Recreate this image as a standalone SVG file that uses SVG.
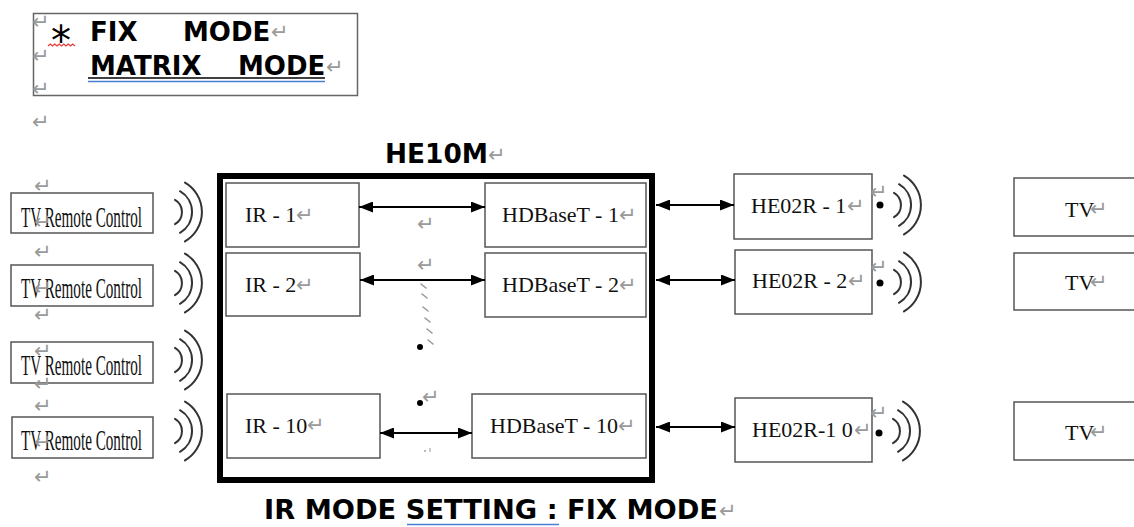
<svg xmlns="http://www.w3.org/2000/svg" xmlns:xlink="http://www.w3.org/1999/xlink" width="1134" height="527" viewBox="0 0 1134 527">
<style>
.bg{fill:#fff}
.box{fill:#fff;stroke:#555;stroke-width:1.5}
.big{font-family:"DejaVu Sans","Verdana",sans-serif;font-weight:bold;font-size:26px;fill:#000}
.ser{font-family:"Liberation Serif","Times New Roman",serif;font-size:22px;fill:#111}
.rc{font-family:"Liberation Serif","Times New Roman",serif;font-size:30px;fill:#111}
.rm{font-family:"DejaVu Sans",sans-serif;font-size:21px;fill:#9a9a9a}
.wave{fill:none;stroke:#333;stroke-width:2;stroke-linecap:round}
.conn{stroke:#000;stroke-width:2;fill:none}
.tick{stroke:#9a9a9a;stroke-width:1.6;stroke-linecap:round}
</style>
<defs>
<marker id="ah" markerWidth="14" markerHeight="11" refX="14" refY="5.5" orient="auto-start-reverse" markerUnits="userSpaceOnUse">
<path d="M0,0 L14,5.5 L0,11 Z" fill="#000"/>
</marker>
<path id="wv" class="wave" d="M7,-12.1 A14,14 0 0 1 7,12.1 M12,-20.8 A24,24 0 0 1 12,20.8 M17,-29.4 A34,34 0 0 1 17,29.4"/>
</defs>
<rect class="bg" x="0" y="0" width="1134" height="527"/>

<g id="mode-legend">
<rect x="33.5" y="13.5" width="324" height="82" fill="none" stroke="#666" stroke-width="1.5"/>
<text class="rm" x="32" y="29">↵</text>
<text class="rm" x="32" y="63">↵</text>
<text class="rm" x="32" y="96">↵</text>
<text x="51" y="55" font-family="DejaVu Sans,sans-serif" font-size="40" fill="#000">*</text>
<path d="M48,46 l2.25,-2 l2.25,2 l2.25,-2 l2.25,2 l2.25,-2 l2.25,2 l2.25,-2 l2.25,2 l2.25,-2 l2.25,2 l2.25,-2 l2.25,2" fill="none" stroke="#e53935" stroke-width="1.2"/>
<text class="big" x="90" y="41">FIX<tspan x="183">MODE</tspan></text>
<text class="rm" x="271" y="39">↵</text>
<text class="big" x="90" y="75">MATRIX<tspan x="238">MODE</tspan></text>
<line x1="88" y1="78" x2="325" y2="78" stroke="#000" stroke-width="1.6"/>
<line x1="88" y1="81.5" x2="325" y2="81.5" stroke="#4a7fd6" stroke-width="1.3"/>
<text class="rm" x="326" y="74">↵</text>
<text class="rm" x="32" y="129">↵</text>
</g>

<g id="he10m">
<text class="big" x="385" y="163" textLength="103" lengthAdjust="spacingAndGlyphs">HE10M</text>
<text class="rm" x="488" y="162">↵</text>
<rect x="220" y="176" width="432" height="304" fill="none" stroke="#000" stroke-width="6"/>
</g>

<g id="ir-1"><rect class="box" x="226" y="183" width="133" height="64"/><text class="ser" x="245" y="222">IR - 1</text><text class="rm" x="296" y="222" font-size="17">↵</text></g>
<g id="ir-2"><rect class="box" x="226" y="253" width="134" height="63"/><text class="ser" x="245" y="292">IR - 2</text><text class="rm" x="296" y="292" font-size="17">↵</text></g>
<g id="ir-10"><rect class="box" x="227" y="394" width="153" height="64"/><text class="ser" x="245" y="433">IR - 10</text><text class="rm" x="307" y="432" font-size="17">↵</text></g>

<g id="hdbaset-1"><rect class="box" x="485" y="183" width="161" height="64"/><text class="ser" x="502" y="222">HDBaseT - 1</text><text class="rm" x="619" y="222" font-size="17">↵</text></g>
<g id="hdbaset-2"><rect class="box" x="485" y="253" width="161" height="64"/><text class="ser" x="502" y="292">HDBaseT - 2</text><text class="rm" x="619" y="292" font-size="17">↵</text></g>
<g id="hdbaset-10"><rect class="box" x="472" y="394" width="174" height="64"/><text class="ser" x="490" y="433">HDBaseT - 10</text><text class="rm" x="618" y="433" font-size="17">↵</text></g>

<g id="he02r-1"><rect class="box" x="734" y="174" width="138" height="65"/><text class="ser" x="751" y="213">HE02R - 1</text><text class="rm" x="847" y="213" font-size="17">↵</text></g>
<g id="he02r-2"><rect class="box" x="735" y="250" width="137" height="64"/><text class="ser" x="752" y="288">HE02R - 2</text><text class="rm" x="848" y="288" font-size="17">↵</text></g>
<g id="he02r-10"><rect class="box" x="735" y="398" width="137" height="64"/><text class="ser" x="752" y="437">HE02R-1 0</text><text class="rm" x="854" y="437" font-size="17">↵</text></g>

<g id="tv-1"><rect class="box" x="1014" y="178" width="130" height="58"/><text class="ser" x="1065" y="217">TV</text><text class="rm" x="1090" y="216" font-size="17">↵</text></g>
<g id="tv-2"><rect class="box" x="1014" y="253" width="130" height="57"/><text class="ser" x="1065" y="290">TV</text><text class="rm" x="1090" y="289" font-size="17">↵</text></g>
<g id="tv-3"><rect class="box" x="1014" y="402" width="130" height="58"/><text class="ser" x="1065" y="440">TV</text><text class="rm" x="1090" y="439" font-size="17">↵</text></g>

<g id="remote-1"><rect class="box" x="11" y="193" width="142" height="40"/><text class="rc" x="21" y="227" textLength="121" lengthAdjust="spacingAndGlyphs">TV Remote Control</text><text class="rm" x="34" y="193">↵</text><text class="rm" x="34" y="229">↵</text></g>
<g id="remote-2"><rect class="box" x="11" y="265" width="142" height="41"/><text class="rc" x="21" y="298" textLength="121" lengthAdjust="spacingAndGlyphs">TV Remote Control</text><text class="rm" x="34" y="259">↵</text><text class="rm" x="34" y="295">↵</text><text class="rm" x="34" y="322">↵</text></g>
<g id="remote-3"><rect class="box" x="11" y="342" width="142" height="41"/><text class="rc" x="21" y="375" textLength="121" lengthAdjust="spacingAndGlyphs">TV Remote Control</text><text class="rm" x="34" y="358">↵</text><text class="rm" x="34" y="391">↵</text></g>
<g id="remote-4"><rect class="box" x="12" y="417" width="141" height="41"/><text class="rc" x="21" y="450" textLength="121" lengthAdjust="spacingAndGlyphs">TV Remote Control</text><text class="rm" x="34" y="413">↵</text><text class="rm" x="34" y="449">↵</text><text class="rm" x="34" y="484">↵</text></g>

<g id="ir-waves">
<use xlink:href="#wv" href="#wv" x="168" y="212"/>
<use xlink:href="#wv" href="#wv" x="168" y="283"/>
<use xlink:href="#wv" href="#wv" x="168" y="360"/>
<use xlink:href="#wv" href="#wv" x="168" y="431"/>
<circle cx="880" cy="205" r="3.5" fill="#000"/>
<circle cx="880" cy="283" r="3.5" fill="#000"/>
<circle cx="879" cy="433" r="3.5" fill="#000"/>
<use xlink:href="#wv" href="#wv" x="887" y="205"/>
<use xlink:href="#wv" href="#wv" x="887" y="282"/>
<use xlink:href="#wv" href="#wv" x="886" y="431"/>
<text class="rm" x="870" y="199" font-size="16">↵</text>
<text class="rm" x="870" y="274" font-size="16">↵</text>
<text class="rm" x="870" y="420" font-size="16">↵</text>
</g>

<g id="ellipsis">
<text class="rm" x="417" y="231">↵</text>
<text class="rm" x="417" y="272">↵</text>
<line class="tick" x1="421" y1="284" x2="426" y2="288"/>
<line class="tick" x1="422" y1="294" x2="427" y2="298"/>
<line class="tick" x1="423" y1="307" x2="428" y2="311"/>
<line class="tick" x1="425" y1="318" x2="430" y2="322"/>
<line class="tick" x1="427" y1="329" x2="432" y2="333"/>
<line class="tick" x1="428" y1="340" x2="433" y2="344"/>
<circle cx="420" cy="347" r="3" fill="#000"/>
<circle cx="420" cy="403" r="3" fill="#000"/>
<text class="rm" x="422" y="404" font-size="30">↵</text>
<circle cx="425" cy="451" r="0.9" fill="#999"/>
<line x1="430" y1="448" x2="430" y2="452" stroke="#999" stroke-width="1"/>
</g>

<g id="connectors">
<line class="conn" x1="359" y1="207" x2="485" y2="207" marker-start="url(#ah)" marker-end="url(#ah)"/>
<line class="conn" x1="360" y1="280" x2="485" y2="280" marker-start="url(#ah)" marker-end="url(#ah)"/>
<line class="conn" x1="380" y1="433" x2="472" y2="433" marker-start="url(#ah)" marker-end="url(#ah)"/>
<line class="conn" x1="656" y1="205" x2="734" y2="205" marker-start="url(#ah)" marker-end="url(#ah)"/>
<line class="conn" x1="656" y1="280" x2="735" y2="280" marker-start="url(#ah)" marker-end="url(#ah)"/>
<line class="conn" x1="656" y1="427" x2="735" y2="427" marker-start="url(#ah)" marker-end="url(#ah)"/>
</g>

<g id="caption">
<text class="big" x="264" y="519" textLength="454" lengthAdjust="spacingAndGlyphs">IR MODE SETTING : FIX MODE</text>
<line x1="407" y1="524.5" x2="559" y2="524.5" stroke="#4a7fd6" stroke-width="1.3"/>
<text class="rm" x="719" y="518">↵</text>
</g>
</svg>
